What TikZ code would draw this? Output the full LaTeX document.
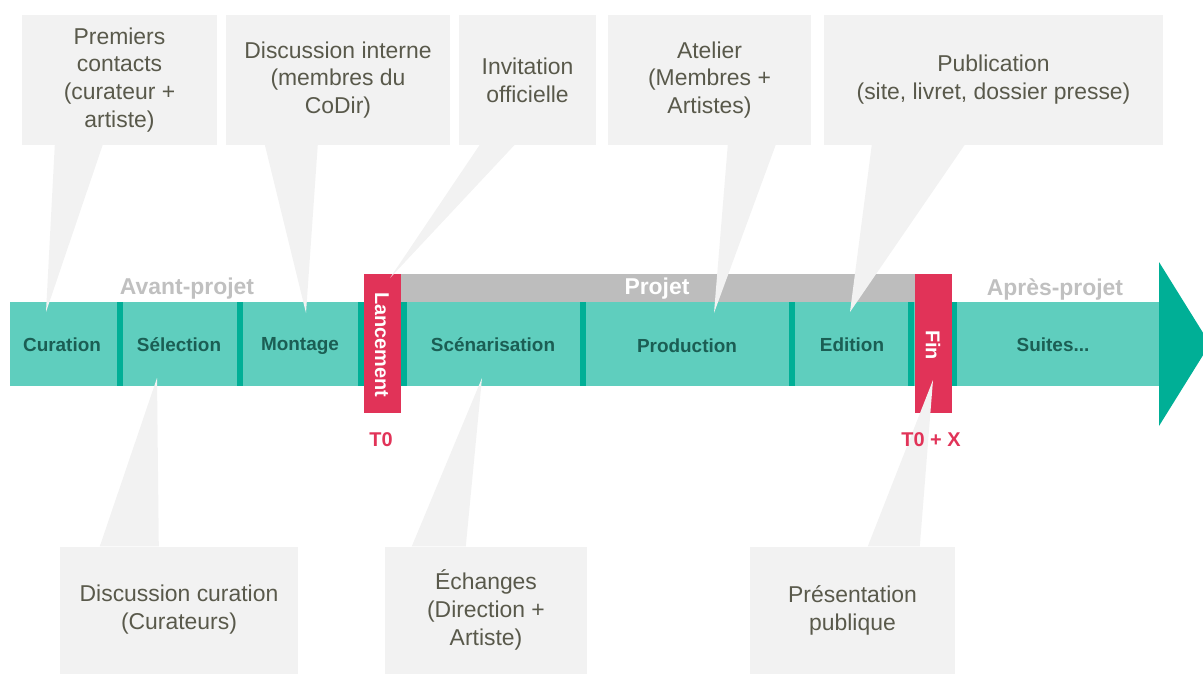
\documentclass[tikz,border=0pt]{standalone}
\usepackage{fontspec}
\setmainfont{Liberation Sans}
\usepackage{tikz}
\usetikzlibrary{shapes}

\definecolor{barteal}{HTML}{5FCEBE}
\definecolor{darkteal}{HTML}{00AF96}
\definecolor{tagred}{HTML}{E13358}
\definecolor{bandgrey}{HTML}{BDBDBD}
\definecolor{boxgrey}{HTML}{F2F2F2}
\definecolor{boxtext}{HTML}{59594B}
\definecolor{bartext}{HTML}{1B5E54}
\definecolor{phasegrey}{HTML}{C0C0C0}

\tikzset{
  callout/.style={fill=boxgrey,text=boxtext,align=center,inner sep=0pt,minimum height=129bp,font=\fontsize{23}{28}\selectfont},
  tail/.style={fill=boxgrey},
  stage/.style={text=bartext,font=\fontsize{19}{22}\selectfont\bfseries},
  phase/.style={font=\fontsize{23}{26}\selectfont\bfseries},
  milestone/.style={text=white,rotate=-90,font=\fontsize{20}{22}\selectfont\bfseries},
  mark label/.style={text=tagred,font=\fontsize{20}{22}\selectfont\bfseries}
}

\begin{document}
\begin{tikzpicture}[x=1bp,y=-1bp]
\useasboundingbox (0,0) rectangle (1203,675);

% time line
\fill[barteal] (10,302) rectangle (1160,386);
\fill[darkteal] (1159,262) -- (1210,344) -- (1159,426) -- cycle;
\foreach \x in {117,237,358,401,580,789,908,951}
  \fill[darkteal] (\x,302) rectangle (\x+6,386);
\fill[bandgrey] (400,274) rectangle (916,302);
\fill[tagred] (364,274) rectangle (401,413);
\fill[tagred] (915,274) rectangle (952,413);

% callouts above
\node (c1) at (119.5,80)[callout,minimum width=195bp] {Premiers\\contacts\\(curateur +\\artiste)};
\node (c2) at (338,80)[callout,minimum width=224bp] {Discussion interne\\(membres du\\CoDir)};
\node (c3) at (527.5,80)[callout,minimum width=137bp] {Invitation\\officielle};
\node (c4) at (709.5,80)[callout,minimum width=203bp] {Atelier\\(Membres +\\Artistes)};
\node (c5) at (993.5,80)[callout,minimum width=339bp] {Publication\\(site, livret, dossier presse)};

% callouts below
\node (c6) at (179,610)[callout,minimum width=238bp,minimum height=127bp] {Discussion curation\\(Curateurs)};
\node (c7) at (486,610)[callout,minimum width=202bp,minimum height=127bp] {Échanges\\(Direction +\\Artiste)};
\node (c8) at (852.5,610)[callout,minimum width=205bp,minimum height=127bp] {Présentation\\publique};

\coordinate (p1) at (46,312);
\coordinate (p2) at (306,313);
\coordinate (p3) at (390,278);
\coordinate (p4) at (714,313);
\coordinate (p5) at (850,312);
\coordinate (p6) at (157,378);
\coordinate (p7) at (482,378);
\coordinate (p8) at (933,380);

\fill[tail] ([xshift=33bp]c1.south west) -- (p1) -- ([xshift=81bp]c1.south west) -- cycle;
\fill[tail] ([xshift=39bp]c2.south west) -- (p2) -- ([xshift=92bp]c2.south west) -- cycle;
\fill[tail] ([xshift=21bp]c3.south west) -- (p3) -- ([xshift=56bp]c3.south west) -- cycle;
\fill[tail] ([xshift=120bp]c4.south west) -- (p4) -- ([xshift=168bp]c4.south west) -- cycle;
\fill[tail] ([xshift=48bp]c5.south west) -- (p5) -- ([xshift=141bp]c5.south west) -- cycle;
\fill[tail] ([xshift=40bp]c6.north west) -- (p6) -- ([xshift=99bp]c6.north west) -- cycle;
\fill[tail] ([xshift=27bp]c7.north west) -- (p7) -- ([xshift=81bp]c7.north west) -- cycle;
\fill[tail] ([xshift=118bp]c8.north west) -- (p8) -- ([xshift=170bp]c8.north west) -- cycle;

% labels on the time line
\node (curation) at (62,345)[stage] {Curation};
\node (selection) at (179,345)[stage] {Sélection};
\node (montage) at (300,346)[stage] {Montage};
\node (scenar) at (493,345)[stage] {Scénarisation};
\node (production) at (687,346)[stage] {Production};
\node (edition) at (852,345)[stage] {Edition};
\node (suites) at (1053,345)[stage] {Suites...};
\node (lancement) at (382,345)[milestone] {Lancement};
\node (fin) at (933,345)[milestone] {Fin};

\node (avant) at (187,289)[phase,text=phasegrey] {Avant-projet};
\node (projet) at (657,289)[phase,text=white] {Projet};
\node (apres) at (1055,289)[phase,text=phasegrey] {Après-projet};
\node (t0) at (381,440)[mark label] {T0};
\node (t0x) at (931,440)[mark label] {T0 + X};
\end{tikzpicture}
\end{document}
